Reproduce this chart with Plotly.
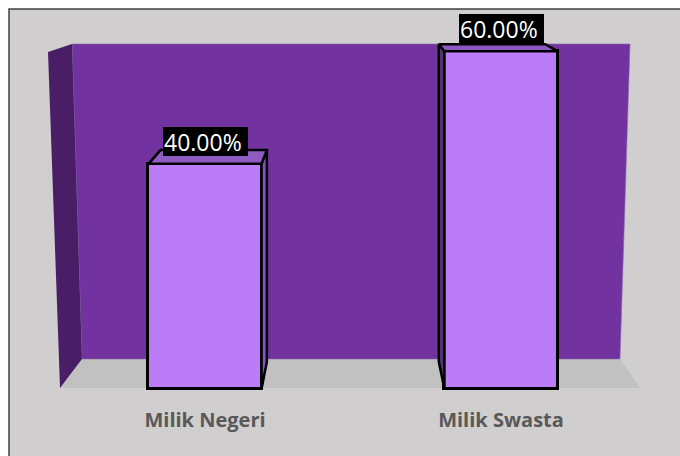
import plotly.graph_objects as go

# ---- data ----
categories = ["Milik Negeri", "Milik Swasta"]
values = [0.40, 0.60]
label_texts = ["40.00%", "60.00%"]

# ---- figure geometry (pixels) ----
W, H = 680, 456
MB = 50                      # bottom margin for category labels
PLOT_H = H - MB
X0_PX, X_UNIT = 205.0, 296.0  # pixel of category 0, pixels per category
Y0_PX, Y_UNIT = 389.0, 563.0  # pixel of value 0, pixels per unit value

x_range = [-X0_PX / X_UNIT, (W - X0_PX) / X_UNIT]
y_range = [-(PLOT_H - Y0_PX) / Y_UNIT, Y0_PX / Y_UNIT]

bar_width = 0.382
# perspective of the 3D bar depth (vanishing point in data units, scale of back face)
VP = (0.49, 0.805)
S = 0.94


def proj(p):
    return (VP[0] + (p[0] - VP[0]) * S, VP[1] + (p[1] - VP[1]) * S)


def px(p):  # pixel x -> paper
    return p / W


def py(p):  # pixel y -> paper
    return (PLOT_H - p) / PLOT_H


def path(points):
    return "M " + " L ".join(f"{px(a):.5f},{py(b):.5f}" for a, b in points) + " Z"


fig = go.Figure()

xs = list(range(len(categories)))
hw = bar_width / 2

# top and side faces of the 3D bars, derived from the data values
top_colors = ["#8e5cc2", "#8c58c0"]
for i, (xi, v) in enumerate(zip(xs, values)):
    FL, FR = (xi - hw, v), (xi + hw, v)
    BL, BR = (xi - hw, 0.0), (xi + hw, 0.0)
    if xi + hw < VP[0]:
        side = [FR, BR, proj(BR), proj(FR), FR]
        side_color = "#8a52c6"
    else:
        side = [FL, BL, proj(BL), proj(FL), FL]
        side_color = "#553474"
    fig.add_trace(go.Scatter(
        x=[p[0] for p in side], y=[p[1] for p in side], mode="lines",
        fill="toself", fillcolor=side_color,
        line=dict(color="black", width=2.5), hoverinfo="skip", showlegend=False))
    top = [FL, FR, proj(FR), proj(FL), FL]
    fig.add_trace(go.Scatter(
        x=[p[0] for p in top], y=[p[1] for p in top], mode="lines",
        fill="toself", fillcolor=top_colors[i],
        line=dict(color="black", width=2.5), hoverinfo="skip", showlegend=False))

# front faces
fig.add_trace(go.Bar(
    x=xs, y=values, width=bar_width,
    marker=dict(color="#bc7bf7", line=dict(color="black", width=3)),
    showlegend=False, hoverinfo="skip"))

# value labels
for xi, v, t in zip(xs, values, label_texts):
    fig.add_annotation(
        x=xi, y=v, xref="x", yref="y", text=t, showarrow=False,
        yanchor="bottom", yshift=8, xanchor="center",
        font=dict(family="Open Sans", size=23, color="white"),
        bgcolor="black", borderpad=1, borderwidth=0,
        width=83, height=27, align="left")

shapes = [
    # chart area background and frame
    dict(type="rect", xref="paper", yref="paper", layer="below",
         x0=px(9), x1=px(720), y0=py(500), y1=py(9),
         fillcolor="#d0cece", line=dict(color="#404040", width=1.5)),
    # floor
    dict(type="path", xref="paper", yref="paper", layer="below",
         path=path([(82, 359), (620, 359), (640, 388), (60, 388)]),
         fillcolor="#c1c1c1", line=dict(width=0)),
    # back wall
    dict(type="path", xref="paper", yref="paper", layer="below",
         path=path([(72, 44), (630, 44), (620, 359), (82, 359)]),
         fillcolor="#7232a0", line=dict(color="#8a6aa8", width=0.6)),
    # side wall
    dict(type="path", xref="paper", yref="paper", layer="below",
         path=path([(48, 52), (72, 44), (82, 359), (60, 388)]),
         fillcolor="#4a1e67", line=dict(width=0)),
]

fig.update_layout(
    width=W, height=H, autosize=False,
    margin=dict(l=0, r=0, t=0, b=MB),
    paper_bgcolor="white", plot_bgcolor="rgba(0,0,0,0)",
    shapes=shapes, showlegend=False,
    xaxis=dict(range=x_range, tickvals=xs, ticktext=categories,
               showgrid=False, zeroline=False, showline=False, ticks="",
               tickfont=dict(family="Open Sans", size=20, color="#595959", weight="bold"),
               fixedrange=True),
    yaxis=dict(range=y_range, visible=False, showgrid=False, zeroline=False,
               fixedrange=True),
    bargap=0,
)

fig.write_html("out.html")
